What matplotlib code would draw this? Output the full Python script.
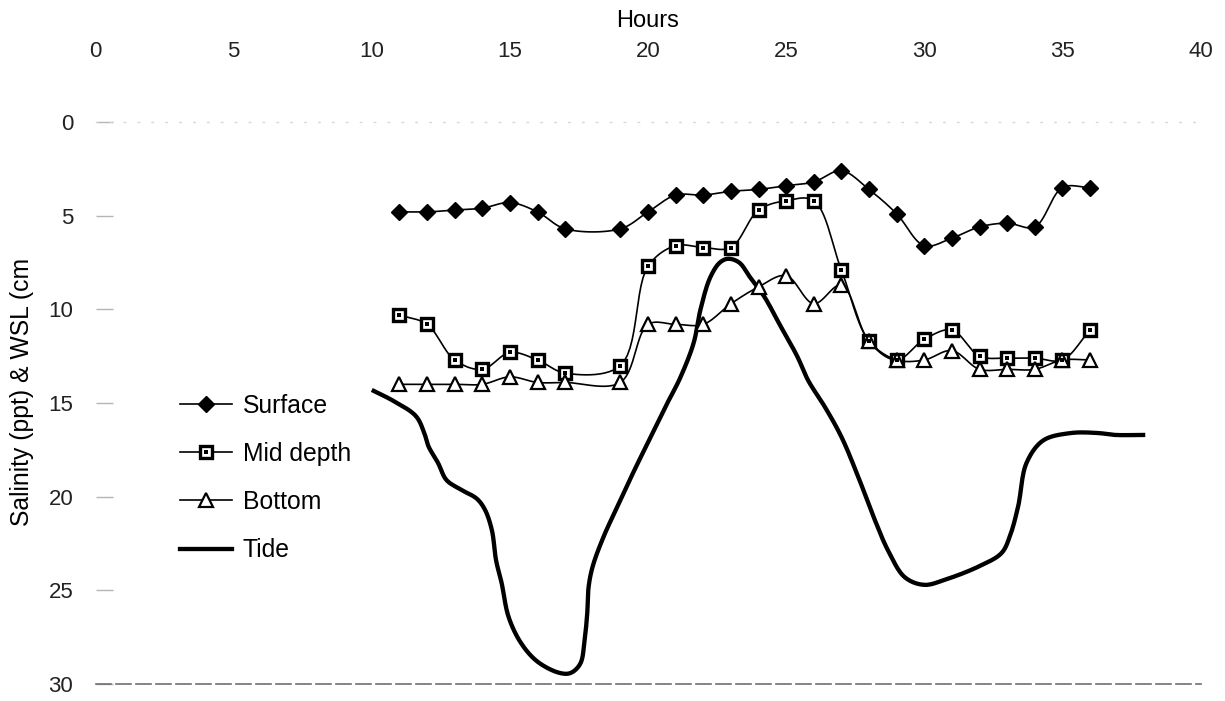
import numpy as np
import matplotlib
matplotlib.use("Agg")
import matplotlib.pyplot as plt
from matplotlib.lines import Line2D
from matplotlib.legend_handler import HandlerTuple

plt.rcParams['font.family'] = ['Liberation Sans', 'DejaVu Sans']

# Sampling hours for the salinity profiles (no sample at hour 18)
hours = [11, 12, 13, 14, 15, 16, 17, 19, 20, 21, 22, 23, 24,
         25, 26, 27, 28, 29, 30, 31, 32, 33, 34, 35, 36]

surface = [4.8, 4.8, 4.7, 4.6, 4.3, 4.8, 5.7, 5.7, 4.8, 3.9, 3.9, 3.7, 3.6,
           3.4, 3.2, 2.6, 3.6, 4.9, 6.6, 6.2, 5.6, 5.4, 5.6, 3.5, 3.5]
mid_depth = [10.3, 10.8, 12.7, 13.2, 12.3, 12.7, 13.4, 13.0, 7.7, 6.6, 6.7, 6.7, 4.7,
             4.2, 4.2, 7.9, 11.7, 12.7, 11.6, 11.1, 12.5, 12.6, 12.6, 12.7, 11.1]
bottom = [14.0, 14.0, 14.0, 14.0, 13.6, 13.9, 13.9, 13.9, 10.8, 10.8, 10.8, 9.7, 8.8,
          8.2, 9.7, 8.7, 11.7, 12.7, 12.7, 12.2, 13.2, 13.2, 13.2, 12.7, 12.7]

# Water surface level record
tide_hours = [10.0, 10.8, 11.6, 11.9, 12.05, 12.4, 12.7, 13.2, 13.8, 14.1,
              14.35, 14.5, 14.7, 14.95, 15.4, 16.0, 16.8, 17.2, 17.55, 17.7,
              17.8, 17.85, 18.0, 18.4, 18.9, 19.5, 20.1, 20.7, 21.15, 21.65,
              21.9, 22.25, 22.6, 22.9, 23.3, 23.7, 24.2, 24.8, 25.4, 25.8,
              26.4, 27.0, 27.6, 28.2, 28.7, 29.3, 30.0, 30.8, 32.0, 32.8,
              33.1, 33.4, 33.7, 34.3, 35.3, 36.3, 36.9, 38.0]
tide = [14.3, 14.9, 15.7, 16.6, 17.3, 18.2, 19.1, 19.6, 20.1, 20.7,
        21.8, 23.4, 24.6, 26.4, 27.8, 28.8, 29.4, 29.4, 28.9, 27.7,
        26.2, 24.8, 23.7, 22.1, 20.5, 18.6, 16.8, 15.0, 13.7, 11.8,
        10.0, 8.3, 7.5, 7.3, 7.5, 8.3, 9.3, 10.9, 12.5, 13.8,
        15.2, 16.8, 18.9, 21.2, 22.9, 24.3, 24.7, 24.4, 23.7, 23.0,
        22.1, 20.5, 18.2, 17.0, 16.6, 16.6, 16.7, 16.7]

x_ticks = [0, 5, 10, 15, 20, 25, 30, 35, 40]
y_ticks = [0, 5, 10, 15, 20, 25, 30]


def smooth(x, y, sx=27.6, sy=18.7, n=14):
    """Centripetal Catmull-Rom curve through the points (spreadsheet-style smoothed line)."""
    P = np.column_stack([np.asarray(x, float) * sx, np.asarray(y, float) * sy])
    P = np.vstack([2 * P[0] - P[1], P, 2 * P[-1] - P[-2]])
    out = []
    for i in range(1, len(P) - 2):
        p0, p1, p2, p3 = P[i - 1], P[i], P[i + 1], P[i + 2]
        t0 = 0.0
        t1 = t0 + max(np.linalg.norm(p1 - p0) ** 0.5, 1e-6)
        t2 = t1 + max(np.linalg.norm(p2 - p1) ** 0.5, 1e-6)
        t3 = t2 + max(np.linalg.norm(p3 - p2) ** 0.5, 1e-6)
        t = np.linspace(t1, t2, n)[:, None]
        a1 = (t1 - t) / (t1 - t0) * p0 + (t - t0) / (t1 - t0) * p1
        a2 = (t2 - t) / (t2 - t1) * p1 + (t - t1) / (t2 - t1) * p2
        a3 = (t3 - t) / (t3 - t2) * p2 + (t - t2) / (t3 - t2) * p3
        b1 = (t2 - t) / (t2 - t0) * a1 + (t - t0) / (t2 - t0) * a2
        b2 = (t3 - t) / (t3 - t1) * a2 + (t - t1) / (t3 - t1) * a3
        c = (t2 - t) / (t2 - t1) * b1 + (t - t1) / (t2 - t1) * b2
        out.append(c if i == 1 else c[1:])
    out = np.vstack(out)
    return out[:, 0] / sx, out[:, 1] / sy


fig = plt.figure(figsize=(12.25, 7.01), dpi=100)
ax = fig.add_axes([0.078, 0.024, 0.902, 0.802])

# Tide line
tx, ty = smooth(tide_hours, tide)
ax.plot(tx, ty, color='black', lw=3.1, solid_capstyle='butt', zorder=2)

# Salinity profiles
diamond = dict(marker='D', ms=8.5, mfc='black', mec='black', mew=1.0)
square = dict(marker='s', ms=9, mfc='white', mec='black', mew=2.4)
square_dot = dict(marker='s', ms=3.0, mfc='black', mec='black', mew=0)
triangle = dict(marker='^', ms=10, mfc='white', mec='black', mew=1.6)

for vals in (surface, mid_depth, bottom):
    sx_, sy_ = smooth(hours, vals)
    ax.plot(sx_, sy_, color='black', lw=1.2, zorder=3)
ax.plot(hours, surface, ls='none', zorder=4, **diamond)
ax.plot(hours, mid_depth, ls='none', zorder=4, **square)
ax.plot(hours, mid_depth, ls='none', zorder=5, **square_dot)
ax.plot(hours, bottom, ls='none', zorder=4, **triangle)

ax.set_xlim(0, 40)
ax.set_ylim(30, 0)

ax.xaxis.tick_top()
ax.set_xticks(x_ticks)
ax.set_xticklabels([str(v) for v in x_ticks])
ax.tick_params(axis='x', length=0, pad=43, labelsize=16, labelcolor='#222222')
ax.set_yticks(y_ticks)
ax.set_yticklabels([str(v) for v in y_ticks])
ax.tick_params(axis='y', direction='in', length=12, width=1.0, color='#b5b5b5',
               pad=16, labelsize=16, labelcolor='#222222')

ax.xaxis.set_label_position('top')
ax.set_xlabel('Hours', fontsize=17, labelpad=10)

fig.text(22 / 1225, 1 - 392 / 701, 'Salinity (ppt) & WSL (cm', rotation=90,
         ha='center', va='center', fontsize=17.8)

for side in ('left', 'right'):
    ax.spines[side].set_visible(False)
ax.spines['top'].set_color('#d8d8d8')
ax.spines['top'].set_linestyle((0, (1, 9)))
ax.spines['top'].set_linewidth(1.0)
ax.spines['bottom'].set_color('#6f6f6f')
ax.spines['bottom'].set_linestyle((0, (9, 3)))
ax.spines['bottom'].set_linewidth(1.2)

line_kw = dict(color='black', lw=1.2)
handles = [
    Line2D([], [], **line_kw, **diamond),
    (Line2D([], [], **line_kw, **square), Line2D([], [], ls='none', **square_dot)),
    Line2D([], [], **line_kw, **triangle),
    Line2D([], [], color='black', lw=3.1),
]
ax.legend(handles, ['Surface', 'Mid depth', 'Bottom', 'Tide'],
          handler_map={tuple: HandlerTuple(ndivide=1, pad=0)},
          loc='upper left', bbox_to_anchor=(0.0763, 0.517), frameon=False,
          fontsize=17.8, handlelength=2.1, handletextpad=0.45, labelspacing=0.98,
          borderpad=0, borderaxespad=0, numpoints=1)

fig.savefig('out.png', dpi=100, facecolor='white')
